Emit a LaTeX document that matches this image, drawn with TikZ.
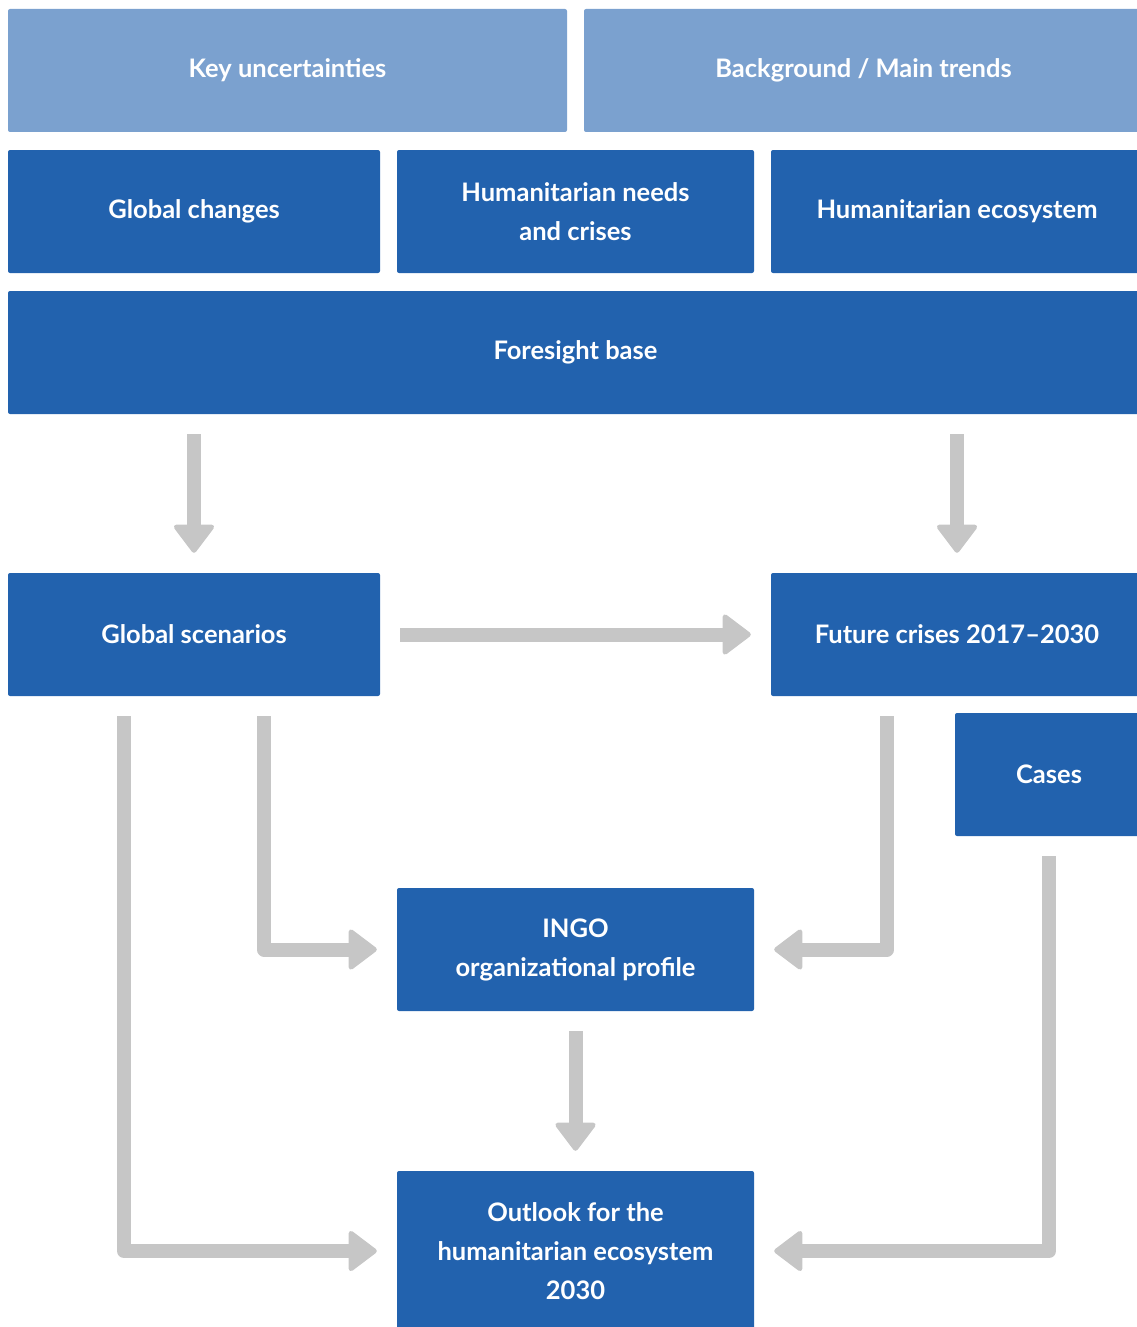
\documentclass[tikz,border=0pt]{standalone}
\usepackage{fontspec}
\setmainfont{Lato}
\usetikzlibrary{arrows.meta}
\definecolor{dblue}{HTML}{2262AE}
\definecolor{lblue}{HTML}{7BA1CF}
\definecolor{agray}{HTML}{C6C6C6}
\begin{document}
\begin{tikzpicture}[x=1pt,y=-1pt,
  box/.style={fill=dblue,text=white,rounded corners=2pt,inner sep=0pt,align=center,
    minimum height=123pt,font=\fontsize{25.5}{39}\selectfont\bfseries},
  lbox/.style={box,fill=lblue},
  flow/.style={draw=agray,line width=14pt,line join=round,
    -{Triangle[width=44pt,length=30pt,line width=5pt,round]},
    shorten <=20pt,shorten >=20pt}]
\useasboundingbox (0,0) rectangle (1137,1327);
\node[lbox,minimum width=559pt] (ku) at (287.5,70.5) {Key uncertainties};
\node[lbox,minimum width=559pt] (bg) at (863.5,70.5) {Background / Main trends};
\node[box,minimum width=372pt] (gc) at (194,211.5) {Global changes};
\node[box,minimum width=357pt] (hn) at (575.5,211.5) {Humanitarian needs\\and crises};
\node[box,minimum width=372pt] (he) at (957,211.5) {Humanitarian ecosystem};
\node[box,minimum width=1135pt] (fb) at (575.5,352.5) {Foresight base};
\node[box,minimum width=372pt] (gs) at (194,634.5) {Global scenarios};
\node[box,minimum width=372pt] (fc) at (957,634.5) {Future crises 2017--2030};
\node[box,minimum width=188pt] (cs) at (1049,774.5) {Cases};
\node[box,minimum width=357pt] (ingo) at (575.5,949.5) {INGO\\organizational profile};
\node[box,minimum width=357pt,minimum height=160pt] (out) at (575.5,1251) {Outlook for the\\humanitarian ecosystem\\2030};
\draw[flow] (fb.south -| gs.north) -- (gs.north);
\draw[flow] (fb.south -| fc.north) -- (fc.north);
\draw[flow] (gs.east) -- (fc.west);
\draw[flow] ([xshift=70pt]gs.south) |- (ingo.west);
\draw[flow] ([xshift=-70pt]gs.south) |- (out.west);
\draw[flow] ([xshift=-70pt]fc.south) |- (ingo.east);
\draw[flow] (cs.south) |- (out.east);
\draw[flow] (ingo.south) -- (out.north);
\end{tikzpicture}
\end{document}
